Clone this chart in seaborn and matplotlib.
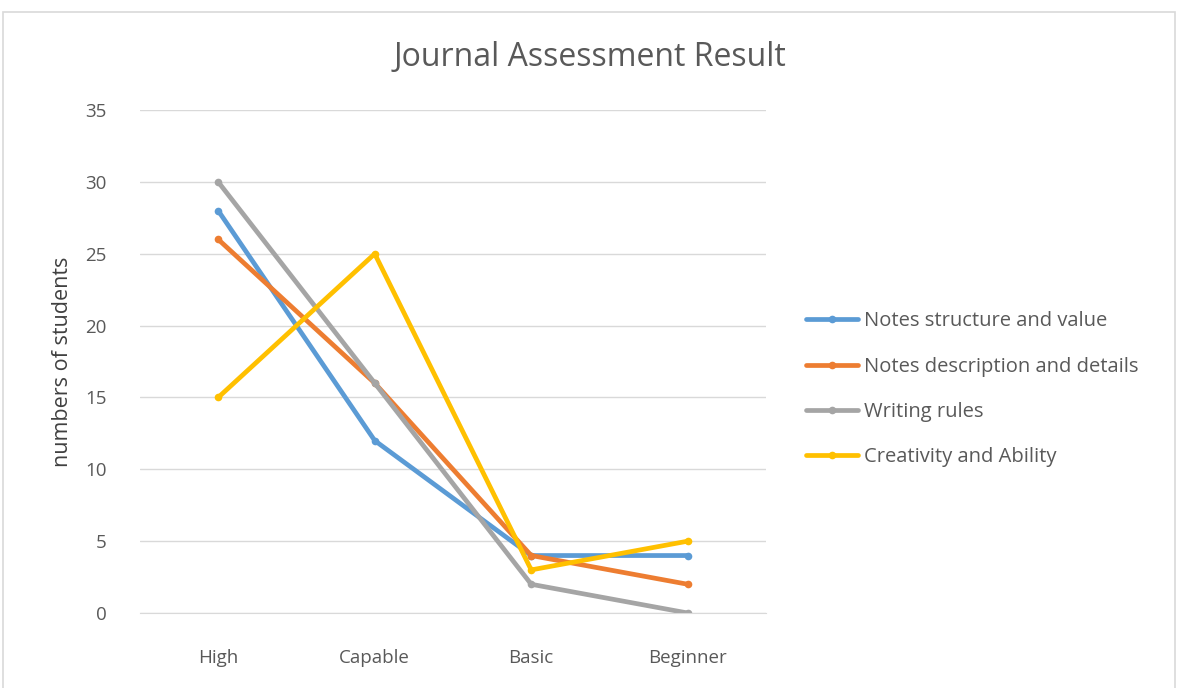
import pandas as pd
import matplotlib.pyplot as plt
import seaborn as sns
from matplotlib.patches import Rectangle

# data
levels = ["High", "Capable", "Basic", "Beginner"]
structure = [28, 12, 4, 4]
description = [26, 16, 4, 2]
writing = [30, 16, 2, 0]
creativity = [15, 25, 3, 5]
series_names = ["Notes structure and value", "Notes description and details",
                "Writing rules", "Creativity and Ability"]
colors = ["#5B9BD5", "#ED7D31", "#A5A5A5", "#FFC000"]

rows = []
for name, vals in zip(series_names, [structure, description, writing, creativity]):
    for lvl, v in zip(levels, vals):
        rows.append({"level": lvl, "students": v, "series": name})
df = pd.DataFrame(rows)

sns.set_style("white")
plt.rcParams['font.family'] = ['Open Sans', 'DejaVu Sans']

fig = plt.figure(figsize=(11.79, 6.88), dpi=100)
ax = fig.add_axes([0.1187, 0.109, 0.531, 0.731])

sns.lineplot(data=df, x="level", y="students", hue="series", hue_order=series_names,
             palette=colors, linewidth=3.4, marker="o", markersize=5.5,
             markeredgewidth=0, sort=False, ax=ax)

ax.set_xlim(-0.5, 3.5)
ax.set_ylim(0, 35)
ax.set_yticks(range(0, 36, 5))
ax.yaxis.grid(True, color="#D9D9D9", linewidth=1)
ax.set_axisbelow(True)
for s in ["top", "right", "left"]:
    ax.spines[s].set_visible(False)
ax.spines["bottom"].set_color("#D9D9D9")
ax.tick_params(axis="both", length=0, labelsize=13.5, colors="#595959")
ax.tick_params(axis="x", pad=26)
ax.tick_params(axis="y", pad=24)
ax.set_xlabel("")
ax.set_ylabel("numbers of students", fontsize=15.5, color="#404040", labelpad=9)

fig.text(0.5, 1 - 57 / 688, "Journal Assessment Result", fontsize=23,
         color="#595959", ha="center", va="center")

leg = ax.legend(loc="center left", bbox_to_anchor=(1.064, 0.445), frameon=False,
                fontsize=14.5, labelcolor="#595959", handlelength=2.6,
                labelspacing=1.25, handletextpad=0.3, borderpad=0, borderaxespad=0)
for line in leg.get_lines():
    line.set_linewidth(3.4)

fig.patches.append(Rectangle((3 / 1179, -0.01), 1172 / 1179, 1 - 12 / 688 + 0.01,
                             transform=fig.transFigure, fill=False,
                             edgecolor="#D9D9D9", linewidth=1.2))

fig.savefig("out.png", dpi=100)
